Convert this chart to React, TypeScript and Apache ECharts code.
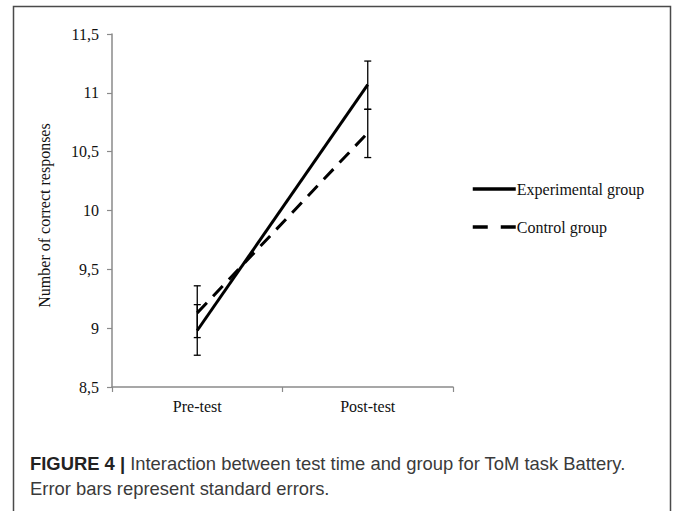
import React, { useEffect, useRef } from "react";
import * as echarts from "echarts";

const categories = ["Pre-test", "Post-test"];
const experimental = [8.98, 11.07];
const experimentalLow = [8.77, 10.86];
const experimentalHigh = [9.2, 11.27];
const control = [9.13, 10.66];
const controlLow = [8.92, 10.45];
const controlHigh = [9.36, 10.86];
const yTicks = { min: 8.5, max: 11.5, interval: 0.5 };

const serif = "'Liberation Serif', 'Times New Roman', serif";
const sans = "'Liberation Sans', Arial, sans-serif";

export default function App() {
  const ref = useRef<HTMLDivElement>(null);
  useEffect(() => {
    if (!ref.current) return;
    const chart = echarts.init(ref.current, undefined, { renderer: "svg" });
    const errData = [
      ...categories.map((_, i) => [i, experimentalLow[i], experimentalHigh[i]]),
      ...categories.map((_, i) => [i, controlLow[i], controlHigh[i]]),
    ];
    chart.setOption({
      animation: false,
      backgroundColor: "#fff",
      grid: { left: 112, right: 222, top: 34, bottom: 124 },
      legend: {
        orient: "vertical",
        left: 471,
        top: 181,
        padding: 0,
        itemWidth: 43,
        itemHeight: 14,
        itemGap: 22,
        itemStyle: { opacity: 0 },
        textStyle: { fontFamily: serif, fontSize: 16, color: "#111", padding: [0, 0, 0, -4] },
        data: [
          { name: "Experimental group", lineStyle: { width: 3.5 } },
          { name: "Control group", lineStyle: { width: 3.5, type: [15, 13] } },
        ],
      },
      xAxis: {
        type: "category",
        data: categories,
        axisLine: { lineStyle: { color: "#8a8a8a", width: 1.5 } },
        axisTick: { show: true, length: 5, lineStyle: { color: "#8a8a8a", width: 1.2 } },
        axisLabel: { fontFamily: serif, fontSize: 16, color: "#111", margin: 11 },
        splitLine: { show: false },
      },
      yAxis: {
        type: "value",
        min: yTicks.min,
        max: yTicks.max,
        interval: yTicks.interval,
        name: "Number of correct responses",
        nameLocation: "middle",
        nameGap: 60,
        nameRotate: 90,
        nameTextStyle: { fontFamily: serif, fontSize: 16, color: "#111", padding: [0, 10, 0, 0] },
        axisLine: { show: true, lineStyle: { color: "#8a8a8a", width: 1.5 } },
        axisTick: { show: true, length: 5, lineStyle: { color: "#8a8a8a", width: 1.2 } },
        axisLabel: {
          fontFamily: serif,
          fontSize: 16,
          color: "#111",
          margin: 13,
          formatter: (v: number) => String(v).replace(".", ","),
        },
        splitLine: { show: false },
      },
      series: [
        {
          name: "Experimental group",
          type: "line",
          data: experimental,
          symbol: "none",
          lineStyle: { color: "#000", width: 3, type: "solid" },
          itemStyle: { color: "#000" },
          z: 3,
        },
        {
          name: "Control group",
          type: "line",
          data: control,
          symbol: "none",
          lineStyle: { color: "#000", width: 3, type: [14, 9] },
          itemStyle: { color: "#000" },
          z: 3,
        },
        {
          name: "errors",
          type: "custom",
          data: errData,
          z: 2,
          renderItem: (params: any, api: any) => {
            const x = api.value(0);
            const lo = api.coord([x, api.value(1)]);
            const hi = api.coord([x, api.value(2)]);
            const w = 3.5;
            const style = { stroke: "#000", lineWidth: 1.3 };
            return {
              type: "group",
              children: [
                { type: "line", shape: { x1: lo[0], y1: lo[1], x2: hi[0], y2: hi[1] }, style },
                { type: "line", shape: { x1: lo[0] - w, y1: lo[1], x2: lo[0] + w, y2: lo[1] }, style },
                { type: "line", shape: { x1: hi[0] - w, y1: hi[1], x2: hi[0] + w, y2: hi[1] }, style },
              ],
            };
          },
        },
      ],
      graphic: [
        {
          type: "rect",
          shape: { x: 13.5, y: 6.5, width: 657, height: 530 },
          style: { fill: "none", stroke: "#4a4a4a", lineWidth: 1.5 },
          silent: true,
        },
        {
          type: "text",
          x: 30,
          y: 463,
          style: {
            text: "{b|FIGURE 4 |} Interaction between test time and group for ToM task Battery.",
            rich: {
              b: { fontFamily: sans, fontSize: 18.4, fontWeight: "bold", fill: "#222" },
            },
            fontFamily: sans,
            fontSize: 18.4,
            fill: "#3a3a3a",
            verticalAlign: "middle",
          },
        },
        {
          type: "text",
          x: 30,
          y: 488,
          style: {
            text: "Error bars represent standard errors.",
            fontFamily: sans,
            fontSize: 18.4,
            fill: "#3a3a3a",
            verticalAlign: "middle",
          },
        },
      ],
    });
    return () => chart.dispose();
  }, []);
  return (
    <div
      ref={ref}
      style={{ position: "absolute", left: 0, top: 0, width: 675, height: 511 }}
    />
  );
}
